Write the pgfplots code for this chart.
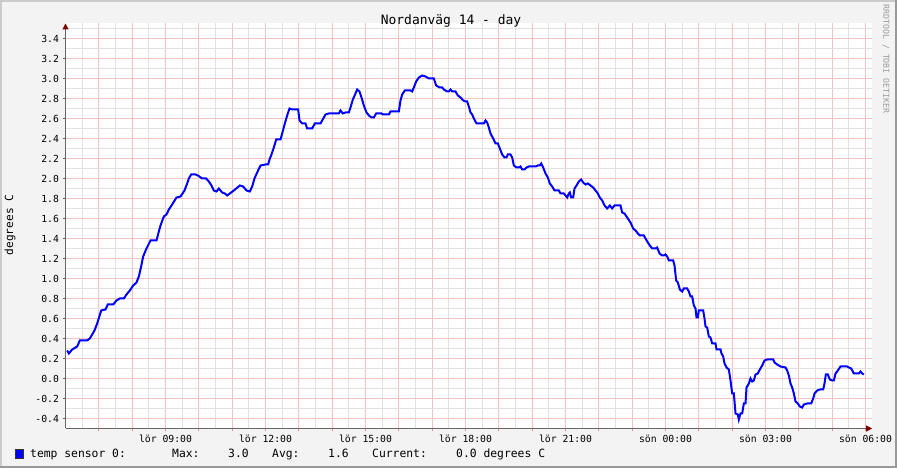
\documentclass[border=0pt]{standalone}
\usepackage{fontspec}
\setmainfont{DejaVu Sans Mono}
\usepackage{pgfplots}
\pgfplotsset{compat=1.18}
\usetikzlibrary{arrows.meta}

\definecolor{bgc}{HTML}{F3F3F3}
\definecolor{shadea}{HTML}{CBCBCB}
\definecolor{shadeb}{HTML}{999999}
\definecolor{majc}{HTML}{F5C2C2}
\definecolor{tickc}{HTML}{F08C8C}
\definecolor{minc}{HTML}{E1E1E1}
\definecolor{axisc}{HTML}{666666}
\definecolor{arrowc}{HTML}{7F0000}
\definecolor{wmark}{HTML}{999999}
\definecolor{lineblue}{HTML}{0000FF}

\begin{document}
\begin{tikzpicture}[x=1bp,y=1bp]
% canvas
\fill[bgc] (0,0) rectangle (897,468);
\fill[shadea] (0,466) rectangle (897,468);
\fill[shadea] (0,0) rectangle (2,468);
\fill[shadeb] (0,0) rectangle (897,2);
\fill[shadeb] (895,0) rectangle (897,468);
\useasboundingbox (0,0) rectangle (897,468);

\begin{axis}[
  at={(65.5bp,39.5bp)}, anchor=south west,
  scale only axis,
  width=806.67bp, height=405bp,
  xmin=6, xmax=30.2, ymin=-0.5, ymax=3.55,
  axis x line=bottom, axis y line=left,
  axis background/.style={fill=white},
  axis line style={draw=axisc, line width=1bp},
  every outer x axis line/.append style={-{Triangle[length=6bp,width=6bp,color=arrowc]}},
  every outer y axis line/.append style={-{Triangle[length=6bp,width=6bp,color=arrowc]}},
  xtick={7,...,30},
  xticklabels={,,{lör 09:00},,,{lör 12:00},,,{lör 15:00},,,{lör 18:00},,,{lör 21:00},,,{sön 00:00},,,{sön 03:00},,,{sön 06:00}},
  minor xtick={6.5,7.5,...,29.5},
  ytick={-0.4,-0.2,0,0.2,0.4,0.6,0.8,1.0,1.2,1.4,1.6,1.8,2.0,2.2,2.4,2.6,2.8,3.0,3.2,3.4},
  yticklabels={-0.4,-0.2,0.0,0.2,0.4,0.6,0.8,1.0,1.2,1.4,1.6,1.8,2.0,2.2,2.4,2.6,2.8,3.0,3.2,3.4},
  minor ytick={-0.5,-0.3,-0.1,0.1,0.3,0.5,0.7,0.9,1.1,1.3,1.5,1.7,1.9,2.1,2.3,2.5,2.7,2.9,3.1,3.3,3.5},
  xmajorgrids, ymajorgrids, xminorgrids, yminorgrids,
  minor grid style={draw=minc, line width=1bp},
  major grid style={draw=majc, line width=1bp},
  tick align=outside,
  major tick length=3bp, minor tick length=0bp,
  xtick style={draw=tickc, line width=1bp},
  ytick style={draw=axisc, line width=1bp},
  tick label style={font=\fontsize{9.8}{11}\selectfont, text=black},
  /pgf/number format/assume math mode=true,
]
\addplot[draw=lineblue, line width=2bp] coordinates {
(6.05,0.28) (6.10,0.25) (6.20,0.29) (6.35,0.32) (6.43,0.38) (6.65,0.38) (6.73,0.40)
(6.80,0.44) (6.87,0.48) (6.95,0.55) (7.07,0.68) (7.20,0.69) (7.27,0.74) (7.43,0.74)
(7.53,0.78) (7.63,0.80) (7.75,0.80) (7.83,0.84) (7.93,0.88) (8.03,0.93) (8.13,0.96)
(8.20,1.02) (8.27,1.12) (8.33,1.22) (8.43,1.30) (8.55,1.38) (8.73,1.38) (8.80,1.47)
(8.85,1.53) (8.95,1.62) (9.03,1.64) (9.10,1.69) (9.20,1.74) (9.33,1.81) (9.45,1.82)
(9.57,1.88) (9.65,1.95) (9.70,2.00) (9.77,2.04) (9.90,2.04) (9.97,2.03) (10.10,2.00)
(10.22,2.00) (10.30,1.97) (10.38,1.93) (10.45,1.88) (10.53,1.87) (10.60,1.90) (10.70,1.86)
(10.78,1.85) (10.85,1.83) (10.93,1.85) (11.05,1.88) (11.23,1.93) (11.33,1.92) (11.43,1.88)
(11.53,1.87) (11.60,1.92) (11.67,2.00) (11.75,2.06)
(11.85,2.13) (12.00,2.14) (12.08,2.14) (12.12,2.19) (12.18,2.24) (12.25,2.31) (12.32,2.39)
(12.45,2.39) (12.50,2.45) (12.58,2.55) (12.65,2.63) (12.72,2.70) (12.80,2.69) (12.98,2.69)
(13.02,2.58) (13.10,2.55) (13.20,2.55) (13.25,2.50) (13.40,2.50) (13.48,2.55) (13.65,2.55)
(13.70,2.58) (13.80,2.64) (13.90,2.65) (14.20,2.65) (14.25,2.68) (14.32,2.65) (14.40,2.66)
(14.50,2.66) (14.55,2.71) (14.62,2.79) (14.70,2.85) (14.75,2.89) (14.82,2.87) (14.88,2.81)
(14.95,2.73) (15.03,2.66) (15.10,2.63) (15.18,2.61) (15.25,2.61) (15.32,2.65) (15.48,2.65)
(15.52,2.64) (15.70,2.64) (15.75,2.67) (16.00,2.67) (16.05,2.78) (16.10,2.84) (16.18,2.88)
(16.35,2.88) (16.40,2.87) (16.45,2.91) (16.52,2.97) (16.60,3.01) (16.70,3.03) (16.80,3.02)
(16.90,3.00) (17.05,3.00) (17.12,2.93) (17.22,2.91) (17.30,2.91) (17.35,2.89) (17.45,2.87)
(17.50,2.87) (17.55,2.89) (17.60,2.87) (17.70,2.87)
(17.77,2.83) (17.85,2.81) (17.93,2.78) (18.00,2.77) (18.05,2.77) (18.10,2.72) (18.15,2.66)
(18.20,2.64) (18.25,2.60) (18.33,2.55) (18.50,2.55) (18.55,2.55) (18.60,2.58) (18.65,2.56)
(18.70,2.51) (18.75,2.45) (18.83,2.40) (18.90,2.35) (18.97,2.35) (19.03,2.30) (19.10,2.24)
(19.17,2.21) (19.23,2.21) (19.27,2.24) (19.35,2.24) (19.40,2.21) (19.45,2.13) (19.53,2.11)
(19.60,2.11) (19.65,2.12) (19.70,2.09) (19.77,2.09) (19.83,2.11) (19.90,2.12) (20.10,2.12)
(20.17,2.13) (20.23,2.13) (20.27,2.15) (20.33,2.11) (20.40,2.05) (20.47,2.01) (20.53,1.95)
(20.60,1.92) (20.67,1.88) (20.80,1.88) (20.85,1.85) (20.95,1.85) (21.00,1.83) (21.05,1.81)
(21.10,1.85) (21.13,1.86) (21.17,1.81) (21.23,1.81) (21.27,1.90) (21.33,1.93) (21.40,1.97)
(21.47,1.99) (21.53,1.96) (21.60,1.94) (21.67,1.95) (21.75,1.93) (21.83,1.91) (21.90,1.88)
(21.97,1.85) (22.03,1.81) (22.10,1.78) (22.17,1.73) (22.25,1.70) (22.33,1.73) (22.40,1.70)
(22.47,1.73) (22.65,1.73) (22.70,1.66) (22.77,1.65) (22.85,1.61) (22.95,1.56) (23.03,1.50)
(23.10,1.48) (23.17,1.45) (23.23,1.43) (23.35,1.43) (23.40,1.40) (23.47,1.36) (23.53,1.33)
(23.60,1.30) (23.70,1.30) (23.75,1.31) (23.82,1.25) (23.90,1.23) (23.95,1.23) (24.00,1.24)
(24.05,1.22) (24.10,1.18) (24.23,1.18) (24.27,1.13) (24.32,0.98) (24.37,0.96) (24.43,0.89)
(24.50,0.87) (24.55,0.90) (24.65,0.90) (24.70,0.87) (24.75,0.82) (24.80,0.82) (24.85,0.73)
(24.90,0.70) (24.93,0.61) (24.97,0.61) (25.00,0.68) (25.13,0.68) (25.17,0.60) (25.20,0.52)
(25.25,0.51) (25.30,0.42) (25.35,0.41) (25.40,0.35) (25.50,0.35) (25.53,0.29) (25.65,0.29)
(25.68,0.25) (25.73,0.22) (25.77,0.15) (25.83,0.11) (25.90,0.09) (25.95,-0.02) (26.00,-0.15)
(26.05,-0.15) (26.10,-0.35) (26.17,-0.36) (26.20,-0.41) (26.25,-0.35) (26.30,-0.35) (26.35,-0.25)
(26.40,-0.25) (26.43,-0.09) (26.50,-0.05) (26.55,0.00) (26.60,-0.03) (26.65,-0.02) (26.70,0.04)
(26.77,0.05) (26.83,0.09) (26.90,0.13) (26.97,0.18) (27.05,0.19) (27.23,0.19) (27.27,0.16)
(27.35,0.14) (27.45,0.12) (27.60,0.11) (27.65,0.08) (27.70,0.03) (27.75,-0.05) (27.80,-0.09)
(27.85,-0.15) (27.90,-0.23) (27.97,-0.25) (28.03,-0.28) (28.10,-0.29) (28.15,-0.26) (28.25,-0.25)
(28.37,-0.25) (28.43,-0.20) (28.47,-0.15) (28.55,-0.12) (28.63,-0.11) (28.73,-0.11) (28.77,-0.05)
(28.81,0.04) (28.87,0.04) (28.93,-0.01) (29.00,-0.02) (29.05,-0.02) (29.10,0.05) (29.17,0.08)
(29.25,0.12) (29.45,0.12) (29.50,0.11) (29.57,0.10) (29.65,0.05) (29.80,0.05) (29.85,0.07)
(29.90,0.05) (29.95,0.04)
};
\end{axis}

% title, unit label, watermark
\node[font=\fontsize{13}{15}\selectfont] at (451,447) {Nordanväg 14 - day};
\node[font=\fontsize{11.2}{13}\selectfont, rotate=90] at (10,243) {degrees C};
\node[font=\fontsize{8.2}{9}\selectfont, text=wmark, rotate=-90] at (886,409) {RRDTOOL / TOBI OETIKER};

% legend
\filldraw[fill=lineblue, draw=black!80, line width=0.8bp] (15,10) rectangle (23,19);
\begin{scope}[every node/.style={font=\fontsize{11.4}{13}\selectfont, anchor=base west, inner sep=0pt}]
\node at (30,10.5) {temp sensor 0:};
\node at (172,10.5) {Max:};
\node at (228,10.5) {3.0};
\node at (272,10.5) {Avg:};
\node at (328,10.5) {1.6};
\node at (372,10.5) {Current:};
\node at (456,10.5) {0.0 degrees C};
\end{scope}
\end{tikzpicture}
\end{document}
